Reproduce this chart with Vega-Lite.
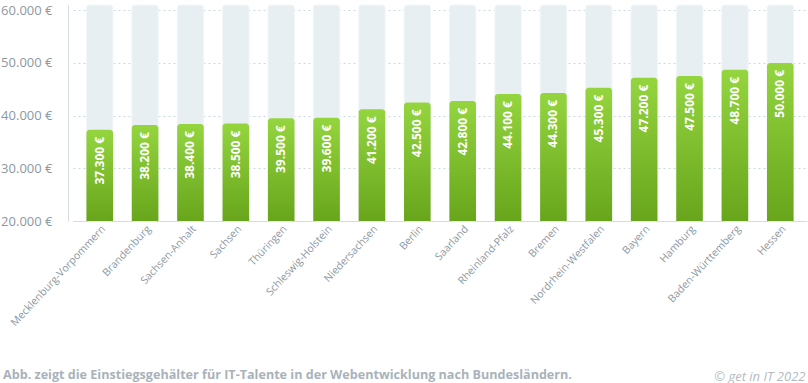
{
  "$schema": "https://vega.github.io/schema/vega-lite/v6.json",
  "width": 738,
  "height": 216,
  "autosize": "none",
  "padding": {"left": 68, "top": 5, "right": 2, "bottom": 162},
  "background": "white",
  "config": {
    "locale": {"number": {"decimal": ",", "thousands": ".", "grouping": [3], "currency": ["", " €"]}},
    "view": {"stroke": null},
    "font": "Open Sans"
  },
  "title": {
    "text": "Abb. zeigt die Einstiegsgehälter für IT-Talente in der Webentwicklung nach Bundesländern.",
    "orient": "bottom",
    "anchor": "start",
    "frame": "group",
    "dx": -65,
    "offset": -4,
    "baseline": "alphabetic",
    "fontSize": 12.6,
    "fontWeight": "bold",
    "color": "#a9b2ba",
    "font": "Open Sans"
  },
  "data": {
    "values": [
      {"land": "Mecklenburg-Vorpommern", "gehalt": 37300},
      {"land": "Brandenburg", "gehalt": 38200},
      {"land": "Sachsen-Anhalt", "gehalt": 38400},
      {"land": "Sachsen", "gehalt": 38500},
      {"land": "Thüringen", "gehalt": 39500},
      {"land": "Schleswig-Holstein", "gehalt": 39600},
      {"land": "Niedersachsen", "gehalt": 41200},
      {"land": "Berlin", "gehalt": 42500},
      {"land": "Saarland", "gehalt": 42800},
      {"land": "Rheinland-Pfalz", "gehalt": 44100},
      {"land": "Bremen", "gehalt": 44300},
      {"land": "Nordrhein-Westfalen", "gehalt": 45300},
      {"land": "Bayern", "gehalt": 47200},
      {"land": "Hamburg", "gehalt": 47500},
      {"land": "Baden-Württemberg", "gehalt": 48700},
      {"land": "Hessen", "gehalt": 50000}
    ]
  },
  "encoding": {
    "x": {
      "field": "land",
      "type": "nominal",
      "sort": null,
      "scale": {"range": [5, 739], "paddingInner": 0.414, "paddingOuter": 0.296},
      "axis": {
        "labelAngle": -47,
        "labelFontSize": 10.5,
        "labelColor": "#8d98a3",
        "labelFont": "Open Sans",
        "labelPadding": 6,
        "labelOffset": 4,
        "ticks": false,
        "domain": true,
        "domainColor": "#d5dce1",
        "title": "© get in IT 2022",
        "titleAnchor": "end",
        "titleAlign": "right",
        "titleX": 737,
        "titleY": 159,
        "titleBaseline": "alphabetic",
        "titleFont": "Open Sans",
        "titleFontStyle": "italic",
        "titleFontWeight": "normal",
        "titleFontSize": 13,
        "titleColor": "#b3bbc2"
      }
    }
  },
  "layer": [
    {
      "mark": {"type": "bar", "color": "#e8eff3", "cornerRadius": 3, "stroke": "#f3f7f9", "strokeWidth": 1},
      "encoding": {
        "y": {
          "datum": 61000,
          "type": "quantitative",
          "scale": {"domain": [20000, 61000], "nice": false, "zero": false},
          "axis": {
            "values": [20000, 30000, 40000, 50000, 60000],
            "format": "$,.0f",
            "labelFontSize": 13,
            "labelColor": "#8d98a3",
            "labelFont": "Open Sans",
            "labelPadding": 16,
            "ticks": false,
            "domain": true,
            "domainColor": "#d5dce1",
            "grid": true,
            "gridColor": "#cbd8e1",
            "gridDash": [2, 3],
            "title": null
          }
        },
        "y2": {"datum": 20000}
      }
    },
    {
      "mark": {
        "type": "bar",
        "cornerRadiusTopLeft": 3,
        "cornerRadiusTopRight": 3,
        "color": {
          "gradient": "linear",
          "x1": 0, "y1": 0, "x2": 0, "y2": 1,
          "stops": [
            {"offset": 0, "color": "#94d53f"},
            {"offset": 1, "color": "#68a51c"}
          ]
        }
      },
      "encoding": {
        "y": {"field": "gehalt", "type": "quantitative"},
        "y2": {"datum": 20000}
      }
    },
    {
      "mark": {
        "type": "text",
        "angle": 270,
        "align": "right",
        "baseline": "middle",
        "dx": -7,
        "color": "white",
        "fontSize": 12,
        "fontWeight": "bold",
        "font": "Open Sans"
      },
      "encoding": {
        "y": {"field": "gehalt", "type": "quantitative"},
        "text": {"field": "gehalt", "type": "quantitative", "format": "$,.0f"}
      }
    }
  ]
}
